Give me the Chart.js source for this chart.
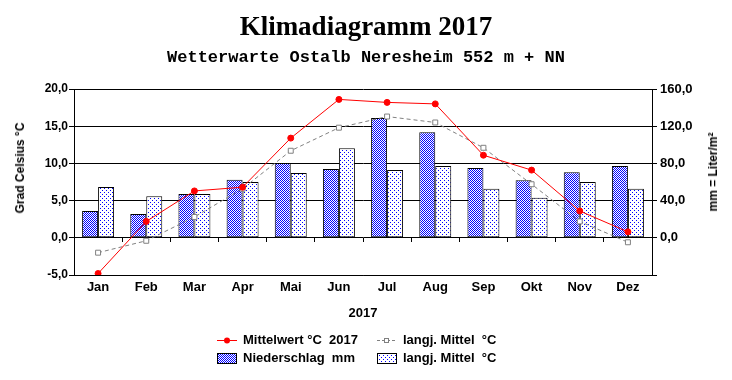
<!DOCTYPE html>
<html>
<head>
<meta charset="utf-8">
<script src="https://cdn.jsdelivr.net/npm/chart.js@4"></script>
<style>
html,body{margin:0;padding:0;background:#fff;}
#wrap{position:relative;width:732px;height:380px;overflow:hidden;background:#fff;}
#c{position:absolute;left:0;top:0;}
.t{position:absolute;white-space:nowrap;color:#000;}
#title{left:0;width:732px;text-align:center;top:13px;font:bold 27px/27px "Liberation Serif",serif;}
#subtitle{left:0;width:732px;text-align:center;top:49px;font:bold 17px/17px "Liberation Mono",monospace;}
.ax{font:bold 12px/14px "Liberation Sans",Arial,sans-serif;transform:translate(-50%,-50%) rotate(-90deg);}
#xtitle{font:bold 13px/14px "Liberation Sans",Arial,sans-serif;transform:translate(-50%,-50%);}
.lg{font:bold 13px/14px "Liberation Sans",Arial,sans-serif;transform:translateY(-50%);}
.sw{position:absolute;}
</style>
</head>
<body>
<div id="wrap">
<canvas id="c" width="732" height="380"></canvas>
<div class="t" id="title">Klimadiagramm 2017</div>
<div class="t" id="subtitle">Wetterwarte Ostalb Neresheim 552 m + NN</div>
<div class="t ax" style="left:20px;top:168px;">Grad Celsius °C</div>
<div class="t ax" style="left:713px;top:172px;">mm = Liter/m²</div>
<div class="t" id="xtitle" style="left:363px;top:313px;">2017</div>
<canvas class="sw" id="sw1" width="20" height="10" style="left:217px;top:335px;"></canvas>
<div class="t lg" style="left:243px;top:340px;">Mittelwert °C&nbsp; 2017</div>
<canvas class="sw" id="sw2" width="20" height="10" style="left:377px;top:335px;"></canvas>
<div class="t lg" style="left:403px;top:340px;">langj. Mittel&nbsp; °C</div>
<canvas class="sw" id="sw3" width="20" height="11" style="left:217px;top:353px;"></canvas>
<div class="t lg" style="left:243px;top:358px;">Niederschlag&nbsp; mm</div>
<canvas class="sw" id="sw4" width="20" height="11" style="left:377px;top:353px;"></canvas>
<div class="t lg" style="left:403px;top:358px;">langj. Mittel&nbsp; °C</div>
</div>
<script>
// ---- data ----
const months = ['Jan','Feb','Mar','Apr','Mai','Jun','Jul','Aug','Sep','Okt','Nov','Dez'];
const temp2017 = [-4.8, 2.2, 6.3, 6.8, 13.4, 18.6, 18.2, 18.0, 11.1, 9.1, 3.6, 0.8];
const tempLongterm = [-2.0, -0.4, 2.8, 6.6, 11.7, 14.8, 16.3, 15.5, 12.1, 7.2, 2.2, -0.6];
const precip2017 = [28.7, 25.5, 47.0, 62.4, 80.3, 73.9, 128.7, 113.6, 75.0, 62.0, 70.6, 77.1];
const precipLongterm = [54.5, 44.8, 47.0, 59.9, 69.6, 96.4, 72.8, 77.1, 52.7, 43.0, 59.9, 52.7];
const tempTickRange = [-5, 20, 5];     // min, max, step
const precipTickRange = [-40, 160, 40]; // min, max, step

// ---- patterns ----
function makePattern(w, h, dots) {
  const c = document.createElement('canvas');
  c.width = w; c.height = h;
  const g = c.getContext('2d');
  g.fillStyle = '#ffffff'; g.fillRect(0, 0, w, h);
  g.fillStyle = '#0000ff';
  dots.forEach(d => g.fillRect(d[0], d[1], 1, 1));
  return c;
}
const checkTile = makePattern(2, 2, [[0,0],[1,1]]);
const dotTile = makePattern(4, 4, [[0,0],[2,2]]);
const ctx = document.getElementById('c').getContext('2d');
const checkPat = ctx.createPattern(checkTile, 'repeat');
const dotPat = ctx.createPattern(dotTile, 'repeat');

const fmt = v => Number(v).toFixed(1).replace('.', ',');
const fontL = {family: '"Liberation Sans", Arial, sans-serif', size: 12, weight: 'bold'};
const fontR = {family: '"Liberation Sans", Arial, sans-serif', size: 13, weight: 'bold'};

new Chart(ctx, {
  data: {
    labels: months,
    datasets: [
      {type: 'line', label: 'Mittelwert °C  2017', data: temp2017, yAxisID: 'y', order: 0,
       borderColor: '#ff0000', borderWidth: 1, tension: 0,
       pointRadius: 3, pointBackgroundColor: '#ff0000', pointBorderColor: '#ff0000', pointBorderWidth: 1},
      {type: 'line', label: 'langj. Mittel  °C', data: tempLongterm, yAxisID: 'y', order: 0,
       borderColor: '#808080', borderWidth: 1, borderDash: [4, 3], tension: 0,
       pointStyle: 'rect', pointRadius: 3.5, pointBackgroundColor: '#ffffff', pointBorderColor: '#808080', pointBorderWidth: 1},
      {type: 'bar', label: 'Niederschlag  mm', data: precip2017, yAxisID: 'y1', order: 1,
       backgroundColor: checkPat, borderColor: '#000', borderWidth: 1, borderSkipped: false,
       barPercentage: 1.0, categoryPercentage: 0.664},
      {type: 'bar', label: 'langj. Mittel  °C', data: precipLongterm, yAxisID: 'y1', order: 1,
       backgroundColor: dotPat, borderColor: '#000', borderWidth: 1, borderSkipped: false,
       barPercentage: 1.0, categoryPercentage: 0.664}
    ]
  },
  options: {
    responsive: false, animation: false, devicePixelRatio: 1,
    layout: {padding: {top: 89, left: 0, right: 0, bottom: 0}},
    plugins: {legend: {display: false}, tooltip: {enabled: false}, title: {display: false}},
    scales: {
      x: {type: 'category', position: 'bottom', offset: true,
          grid: {display: true, drawOnChartArea: false, drawTicks: false, offset: true},
          border: {display: true, color: '#000', width: 1},
          ticks: {font: fontR, color: '#000', padding: 5, maxRotation: 0, autoSkip: false},
          afterFit: s => { s.height = 105; }},
      x2: {type: 'category', position: {y: 0}, offset: true,
          grid: {offset: true, drawOnChartArea: false, drawTicks: true, tickLength: 4, color: '#000'},
          border: {display: false},
          ticks: {display: false}},
      y: {type: 'linear', position: 'left', min: tempTickRange[0], max: tempTickRange[1],
          ticks: {stepSize: tempTickRange[2], callback: v => fmt(v), font: fontL, color: '#000', padding: 1},
          grid: {color: '#000', lineWidth: 1, drawTicks: true, tickLength: 5},
          border: {display: true, color: '#000', width: 1},
          afterFit: s => { s.width = 74; }},
      y1: {type: 'linear', position: 'right', min: precipTickRange[0], max: precipTickRange[1],
          ticks: {stepSize: precipTickRange[2], callback: v => (v < 0 ? '' : fmt(v)), font: fontR, color: '#000', padding: 3},
          grid: {drawOnChartArea: false, color: '#000', drawTicks: true, tickLength: 5},
          border: {display: true, color: '#000', width: 1},
          afterFit: s => { s.width = 80; }}
    }
  }
});

// ---- legend swatches ----
(function () {
  let g = document.getElementById('sw1').getContext('2d');
  g.strokeStyle = '#ff0000'; g.lineWidth = 1;
  g.beginPath(); g.moveTo(0, 5.5); g.lineTo(20, 5.5); g.stroke();
  g.fillStyle = '#ff0000'; g.beginPath(); g.arc(10, 5.5, 3, 0, Math.PI * 2); g.fill();
  g = document.getElementById('sw2').getContext('2d');
  g.strokeStyle = '#808080'; g.lineWidth = 1; g.setLineDash([3, 2]);
  g.beginPath(); g.moveTo(0, 5.5); g.lineTo(20, 5.5); g.stroke();
  g.setLineDash([]); g.fillStyle = '#fff'; g.fillRect(7, 3, 5, 5);
  g.strokeRect(7.5, 3.5, 4, 4);
  g = document.getElementById('sw3').getContext('2d');
  g.fillStyle = g.createPattern(checkTile, 'repeat'); g.fillRect(0, 0, 20, 11);
  g.strokeStyle = '#000'; g.strokeRect(0.5, 0.5, 19, 10);
  g = document.getElementById('sw4').getContext('2d');
  g.fillStyle = g.createPattern(dotTile, 'repeat'); g.fillRect(0, 0, 20, 11);
  g.strokeStyle = '#000'; g.strokeRect(0.5, 0.5, 19, 10);
})();
</script>
</body>
</html>
